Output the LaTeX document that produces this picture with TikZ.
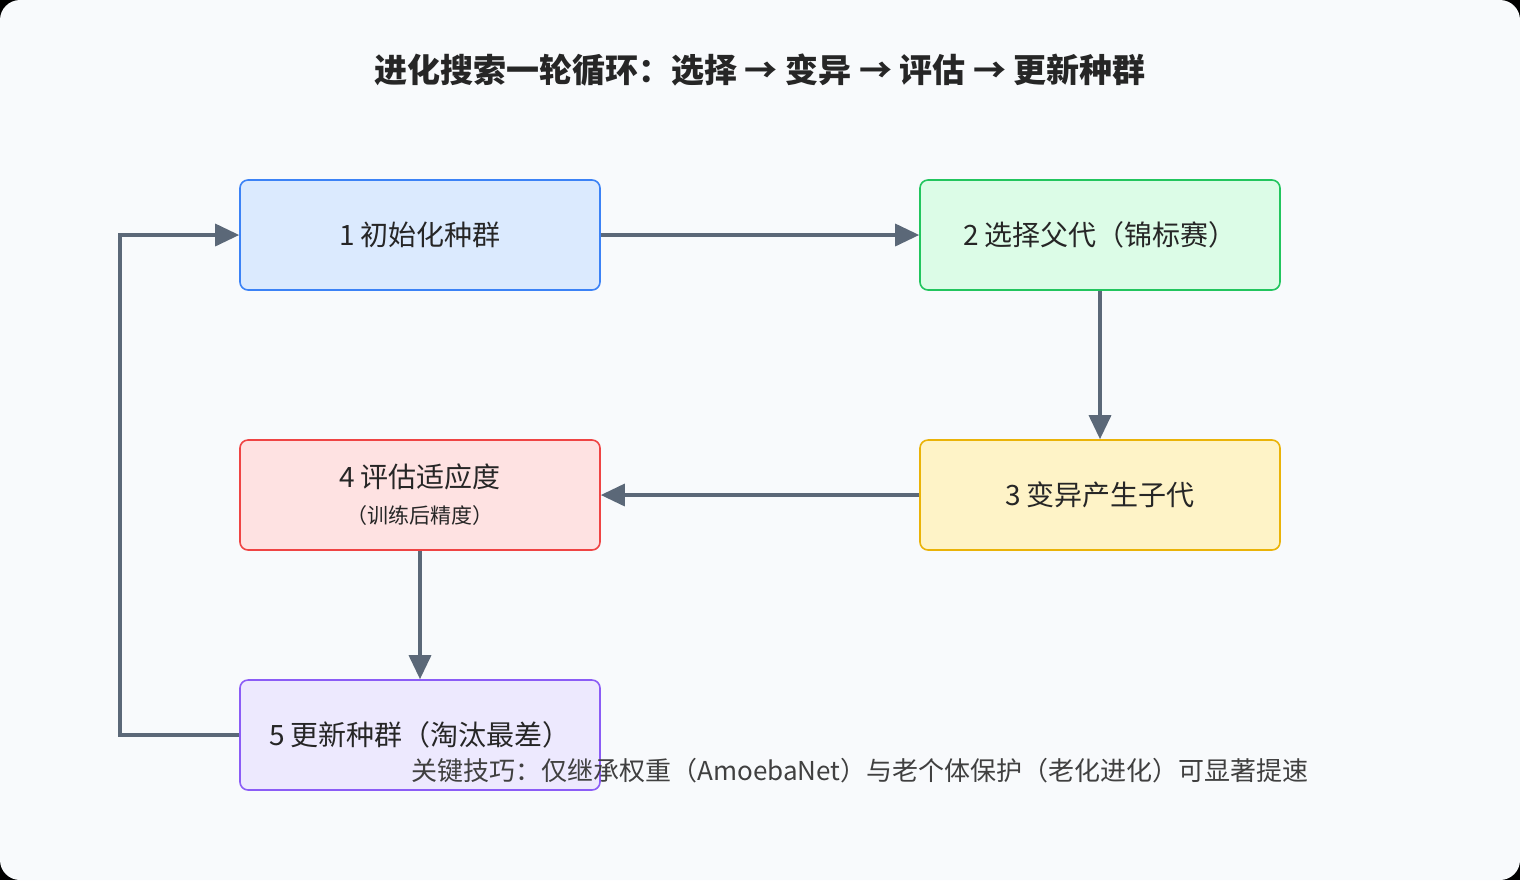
\documentclass[tikz,border=0pt]{standalone}
\usepackage{fontspec}
\setmainfont{Noto Sans CJK SC}
\usetikzlibrary{arrows.meta}
\definecolor{bgc}{HTML}{F8FAFC}
\definecolor{arr}{HTML}{5B6878}
\definecolor{blueF}{HTML}{DBEAFE}\definecolor{blueD}{HTML}{3B82F6}
\definecolor{greenF}{HTML}{DCFCE7}\definecolor{greenD}{HTML}{22C55E}
\definecolor{yelF}{HTML}{FEF3C7}\definecolor{yelD}{HTML}{EAB308}
\definecolor{redF}{HTML}{FEE2E2}\definecolor{redD}{HTML}{EF4444}
\definecolor{purF}{HTML}{EDE9FE}\definecolor{purD}{HTML}{8B5CF6}
\tikzset{
  stage/.style={rectangle, rounded corners=4pt, line width=0.8pt, minimum width=180pt, minimum height=55pt, font=\fontsize{14}{16}\selectfont, text=black!85, align=center},
  flow/.style={draw=arr, line width=1.7pt, -{Triangle[length=12pt,width=11pt]}}
}
\begin{document}
\begin{tikzpicture}[x=0.5pt,y=-0.5pt]
		\fill[black] (0,0) rectangle (1520,880);
		\fill[bgc, rounded corners=10pt] (0,0) rectangle (1520,880);
		\node [text=black!85] (title) at (760,70) {\fontsize{16.5}{19}\selectfont\bfseries 进化搜索一轮循环：选择 → 变异 → 评估 → 更新种群};
		\draw (420, 235) node [stage, fill=blueF, draw=blueD] (init) {1 初始化种群};
		\draw (1100, 235) node [stage, fill=greenF, draw=greenD] (sel) {2 选择父代（锦标赛）};
		\draw (1100, 495) node [stage, fill=yelF, draw=yelD] (mut) {3 变异产生子代};
		\draw (420, 495) node [stage, fill=redF, draw=redD] (eval) {4 评估适应度\\[2pt]{\fontsize{10.5}{12}\selectfont（训练后精度）}};
		\draw (420, 735) node [stage, fill=purF, draw=purD] (upd) {5 更新种群（淘汰最差）};
		\coordinate (cb) at (120, 735);
		\coordinate (ct) at (120, 235);
		\path [flow] (init) -- (sel);
		\path [flow] (sel) -- (mut);
		\path [flow] (mut) -- (eval);
		\path [flow] (eval) -- (upd);
		\path [flow] (upd.west) -- (cb) -- (ct) -- (init.west);
		\node [font=\fontsize{13}{15}\selectfont, text=black!75] (tip) at (860, 771) {关键技巧：仅继承权重（AmoebaNet）与老个体保护（老化进化）可显著提速};
	\end{tikzpicture}
\end{document}
